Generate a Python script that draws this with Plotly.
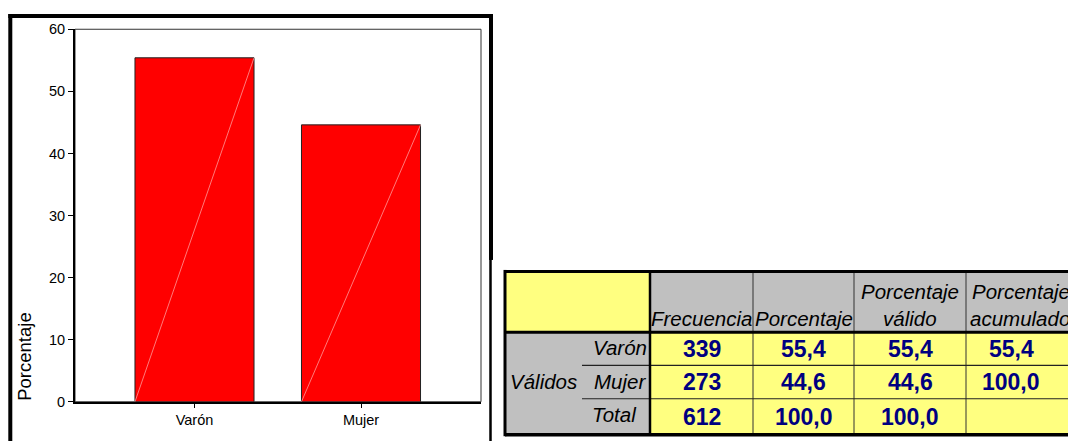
import plotly.graph_objects as go

# ---------------- data ----------------
categories = ["Varón", "Mujer"]
frecuencia = [339, 273]
porcentaje = [55.4, 44.6]
porcentaje_valido = [55.4, 44.6]
porcentaje_acumulado = [55.4, 100.0]
total_frecuencia = 612
total_porcentaje = 100.0
total_valido = 100.0
y_ticks = [0, 10, 20, 30, 40, 50, 60]
col_headers = ["Frecuencia", "Porcentaje", "Porcentaje válido", "Porcentaje acumulado"]
row_group_label = "Válidos"
total_label = "Total"

W, H = 1068, 441
BAR_W = 0.715
FONT = "Liberation Sans, Arial, sans-serif"
YELLOW = "#FFFF80"
GRAY = "#C0C0C0"
NAVY = "#000080"

# the photographed page shows the figure slightly squeezed vertically;
# map target pixel rows to figure rows
V_SCALE = 457 / 441
V_OFF = 8


def fmt(v):
    return f"{v:.1f}".replace(".", ",")


def px(x):
    return x / W


def py(y):
    return 1 - (y * V_SCALE - V_OFF) / H


fig = go.Figure()

fig.add_trace(go.Bar(
    x=list(range(len(categories))), y=porcentaje, width=BAR_W,
    marker=dict(color="#FF0000", line=dict(color="#222222", width=1)),
    hoverinfo="skip", showlegend=False,
))
for i, v in enumerate(porcentaje):
    fig.add_trace(go.Scatter(
        x=[i - BAR_W / 2, i + BAR_W / 2], y=[0, v], mode="lines",
        line=dict(color="rgba(255,170,170,0.9)", width=0.8),
        hoverinfo="skip", showlegend=False,
    ))

shapes = []
annotations = []


def rect(x0, y0, x1, y1, fill):
    shapes.append(dict(type="rect", xref="paper", yref="paper",
                       x0=px(x0), x1=px(x1), y0=py(y0), y1=py(y1),
                       fillcolor=fill, line=dict(width=0), layer="above"))


def line(x0, y0, x1, y1, width, color="black"):
    shapes.append(dict(type="line", xref="paper", yref="paper",
                       x0=px(x0), x1=px(x1), y0=py(y0), y1=py(y1),
                       line=dict(color=color, width=width), layer="above"))


def text(t, x, y, size, xanchor="center", bold=False, italic=False, color="black"):
    s = t
    if bold:
        s = f"<b>{s}</b>"
    if italic:
        s = f"<i>{s}</i>"
    annotations.append(dict(text=s, x=px(x), y=py(y), xref="paper", yref="paper",
                            xanchor=xanchor, yanchor="middle", showarrow=False,
                            font=dict(family=FONT, size=size, color=color)))


# plot frame (top/right thin)
shapes.append(dict(type="rect", xref="paper", yref="paper",
                   x0=px(75), x1=px(481), y0=py(402), y1=py(29),
                   line=dict(color="#333333", width=1), layer="below"))

# outer black frame of the chart
line(10.3, 13.7, 10.3, 460, 4)
line(8.3, 15.7, 493, 15.7, 4)
line(491, 13.7, 491, 260, 4)
line(490.5, 258, 490.5, 460, 2.5)

# ---------------- table ----------------
TL, TR = 505, 1075
TT, HB = 271.5, 332.5
rows_y = [332.5, 365.5, 399, 435]
cols_x = [650, 753, 854, 966, TR]
SUB = 582

rect(TL, TT, 650, HB, YELLOW)
rect(650, TT, TR, HB, GRAY)
rect(TL, HB, 650, rows_y[-1], GRAY)
rect(650, HB, TR, rows_y[-1], YELLOW)

# thin internal lines
for cx in cols_x[1:-1]:
    line(cx, TT, cx, rows_y[-1], 1, "#333333")
for ry in rows_y[1:-1]:
    line(SUB, ry, TR, ry, 1.2, "#222222")

# thick lines
line(650, TT, 650, rows_y[-1], 2.5)
line(TL, HB, TR, HB, 3)
line(TL, TT, TR, TT, 3)
line(TL, rows_y[-1], TR, rows_y[-1], 3.5)
line(TL, TT - 1.5, TL, rows_y[-1] + 1.5, 3)

# header texts
HDR = 20.5
text(col_headers[0], (cols_x[0] + cols_x[1]) / 2, 319, HDR, italic=True)
text(col_headers[1], (cols_x[1] + cols_x[2]) / 2, 319, HDR, italic=True)
h3a, h3b = col_headers[2].split(" ")
text(h3a, (cols_x[2] + cols_x[3]) / 2, 291.5, HDR, italic=True)
text(h3b, (cols_x[2] + cols_x[3]) / 2, 319, HDR, italic=True)
h4a, h4b = col_headers[3].split(" ")
text(h4a, 970, 291.5, HDR, xanchor="left", italic=True)
text(h4b, 968, 319, HDR, xanchor="left", italic=True)

# row labels
row_centers = [(rows_y[i] + rows_y[i + 1]) / 2 for i in range(3)]
text(categories[0], 649, row_centers[0] - 1, HDR, xanchor="right", italic=True)
text(categories[1], 648, row_centers[1] - 1, HDR, xanchor="right", italic=True)
text(row_group_label, (TL + SUB) / 2, row_centers[1] - 1, HDR, italic=True)
text(total_label, 639, row_centers[2] - 2, HDR, xanchor="right", italic=True)

# values
DAT = 23
col_centers = [(cols_x[i] + cols_x[i + 1]) / 2 for i in range(3)] + [1011]
table_rows = [
    [str(frecuencia[0]), fmt(porcentaje[0]), fmt(porcentaje_valido[0]), fmt(porcentaje_acumulado[0])],
    [str(frecuencia[1]), fmt(porcentaje[1]), fmt(porcentaje_valido[1]), fmt(porcentaje_acumulado[1])],
    [str(total_frecuencia), fmt(total_porcentaje), fmt(total_valido), ""],
]
for r, vals in enumerate(table_rows):
    for c, v in enumerate(vals):
        if v:
            text(v, col_centers[c], row_centers[r], DAT, bold=True, color=NAVY)

# y axis title
annotations.append(dict(text="Porcentaje", x=px(25), y=py(403), xref="paper", yref="paper",
                        xanchor="center", yanchor="bottom", textangle=-90, showarrow=False,
                        font=dict(family=FONT, size=18.5, color="black")))

fig.update_layout(
    width=W, height=H, autosize=False,
    margin=dict(l=0, r=0, t=0, b=0, pad=0),
    paper_bgcolor="white", plot_bgcolor="white",
    showlegend=False,
    font=dict(family=FONT, color="black"),
    xaxis=dict(domain=[75 / W, 481 / W], range=[-0.7177, 1.7207],
               tickvals=list(range(len(categories))), ticktext=categories,
               ticks="outside", ticklen=4, tickcolor="black", tickwidth=1,
               showline=True, linecolor="black", linewidth=2,
               showgrid=False, zeroline=False, tickfont=dict(size=14.5, family=FONT)),
    yaxis=dict(domain=[py(402), py(29)], range=[0, 60],
               tickvals=y_ticks, ticks="outside", ticklen=5, tickcolor="black", tickwidth=1,
               showline=True, linecolor="black", linewidth=2,
               showgrid=False, zeroline=False, tickfont=dict(size=14.5, family=FONT)),
    shapes=shapes,
    annotations=annotations,
)

fig.write_html(
    "out.html",
    config={"displayModeBar": False, "responsive": False},
    post_script=(
        "document.documentElement.style.margin='0';"
        "document.documentElement.style.overflow='hidden';"
        "document.body.style.margin='0';document.body.style.padding='0';"
        "document.body.style.overflow='hidden';"
    ),
)
